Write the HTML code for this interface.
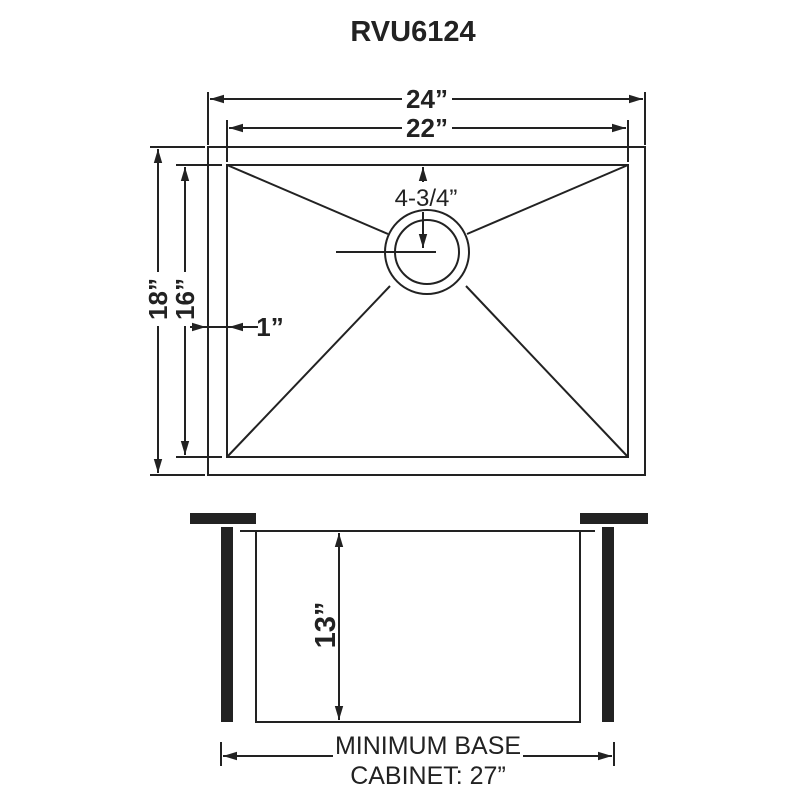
<!DOCTYPE html>
<html><head><style>body{margin:0;background:#fff}svg{display:block}</style></head><body>
<svg width="800" height="800" viewBox="0 0 800 800" xmlns="http://www.w3.org/2000/svg">
<defs>
<marker id="a" viewBox="0 0 10 10" refX="10" refY="5" markerWidth="7" markerHeight="7" orient="auto-start-reverse"><path d="M0,2 L10,5 L0,8 z" fill="#222"/></marker>
</defs>
<g font-family="Liberation Sans, sans-serif" font-weight="bold" fill="#222">
<text x="413" y="41" font-size="29" text-anchor="middle">RVU6124</text>
</g>
<g stroke="#222" stroke-width="2" fill="none">
<line x1="208" y1="92" x2="208" y2="145"/><line x1="645" y1="92" x2="645" y2="145"/>
<line x1="210" y1="99" x2="402" y2="99" marker-start="url(#a)"/><line x1="452" y1="99" x2="643" y2="99" marker-end="url(#a)"/>
<line x1="227" y1="120" x2="227" y2="162"/><line x1="628" y1="120" x2="628" y2="162"/>
<line x1="229" y1="128" x2="402" y2="128" marker-start="url(#a)"/><line x1="452" y1="128" x2="626" y2="128" marker-end="url(#a)"/>
<rect x="208" y="147" width="437" height="328"/>
<rect x="227" y="165" width="401" height="292"/>
<line x1="227" y1="165" x2="388" y2="234"/><line x1="628" y1="165" x2="467" y2="234"/>
<line x1="227" y1="457" x2="390" y2="286"/><line x1="628" y1="457" x2="466" y2="286"/>
<circle cx="427" cy="252" r="42"/><circle cx="427" cy="252" r="32"/>
<line x1="336" y1="252" x2="436" y2="252"/>
<line x1="423" y1="182" x2="423" y2="167" marker-end="url(#a)"/>
<line x1="423" y1="212" x2="423" y2="248" marker-end="url(#a)"/>
<line x1="150" y1="147" x2="205" y2="147"/><line x1="150" y1="475" x2="205" y2="475"/>
<line x1="176" y1="165" x2="222" y2="165"/><line x1="176" y1="457" x2="222" y2="457"/>
<line x1="158" y1="272" x2="158" y2="149" marker-end="url(#a)"/><line x1="158" y1="326" x2="158" y2="473" marker-end="url(#a)"/>
<line x1="185" y1="272" x2="185" y2="167" marker-end="url(#a)"/><line x1="185" y1="326" x2="185" y2="455" marker-end="url(#a)"/>
<line x1="190" y1="327" x2="206" y2="327" marker-end="url(#a)"/>
<line x1="258" y1="327" x2="229" y2="327" marker-end="url(#a)"/>
<line x1="206" y1="327" x2="229" y2="327"/>
<line x1="240" y1="531" x2="595" y2="531"/>
<rect x="256" y="531" width="324" height="191"/>
<line x1="339" y1="533" x2="339" y2="720" marker-start="url(#a)" marker-end="url(#a)"/>
<line x1="221" y1="742" x2="221" y2="766"/><line x1="614" y1="742" x2="614" y2="766"/>
<line x1="223" y1="756" x2="333" y2="756" marker-start="url(#a)"/><line x1="523" y1="756" x2="612" y2="756" marker-end="url(#a)"/>
</g>
<g fill="#222">
<rect x="190" y="513" width="66" height="11"/>
<rect x="580" y="513" width="68" height="11"/>
<rect x="221" y="527" width="12" height="195"/>
<rect x="602" y="527" width="12" height="195"/>
</g>
<g font-family="Liberation Sans, sans-serif" font-weight="bold" fill="#222" font-size="26">
<text x="427" y="108" text-anchor="middle">24”</text>
<text x="427" y="137" text-anchor="middle">22”</text>
<text x="426" y="206" text-anchor="middle" font-weight="normal" font-size="24">4-3/4”</text>
<text x="270" y="336" text-anchor="middle">1”</text>
<text transform="translate(167,299) rotate(-90)" text-anchor="middle">18”</text>
<text transform="translate(194,299) rotate(-90)" text-anchor="middle">16”</text>
<text transform="translate(335,625) rotate(-90)" text-anchor="middle" font-size="29">13”</text>
<text x="428" y="754" text-anchor="middle" font-weight="normal" font-size="25">MINIMUM BASE</text>
<text x="428" y="784" text-anchor="middle" font-weight="normal" font-size="25">CABINET: 27”</text>
</g>
</svg>
</body></html>
